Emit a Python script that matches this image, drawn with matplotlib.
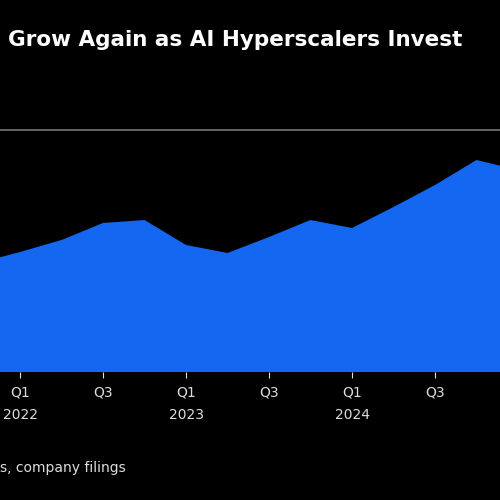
import numpy as np
import matplotlib.pyplot as plt

# quarterly index: 0 = Q4 2021 ... 13 = Q1 2025
quarters = np.arange(14)
values = [109, 120, 132, 149, 152, 127, 119, 135, 152, 144, 165, 187, 212, 202]
tick_pos = [1, 3, 5, 7, 9, 11]
tick_labels = ["Q1\n2022", "Q3", "Q1\n2023", "Q3", "Q1\n2024", "Q3"]

fig = plt.figure(figsize=(5, 5), dpi=100, facecolor="black")
ax = fig.add_axes([0, 0.256, 1, 0.544], facecolor="black")
ax.fill_between(quarters, values, 0, color="#1467f0", lw=0)
ax.axhline(242, color="#777777", lw=1.2)
ax.set_xlim(0.518, 12.566)
ax.set_ylim(0, 272)
ax.set_xticks(tick_pos)
ax.set_xticklabels(tick_labels, color="#dddddd", fontsize=10, linespacing=1.7)
ax.tick_params(axis="x", colors="#dddddd", length=4, pad=6)
ax.set_yticks([])
for s in ax.spines.values():
    s.set_visible(False)

fig.text(0.015, 0.92, "Grow Again as AI Hyperscalers Invest", color="white",
         fontsize=15.5, fontweight="bold", ha="left", va="center")
fig.text(0.0, 0.064, "s, company filings", color="#dddddd", fontsize=10,
         ha="left", va="center")
fig.savefig("out.png", facecolor="black")
